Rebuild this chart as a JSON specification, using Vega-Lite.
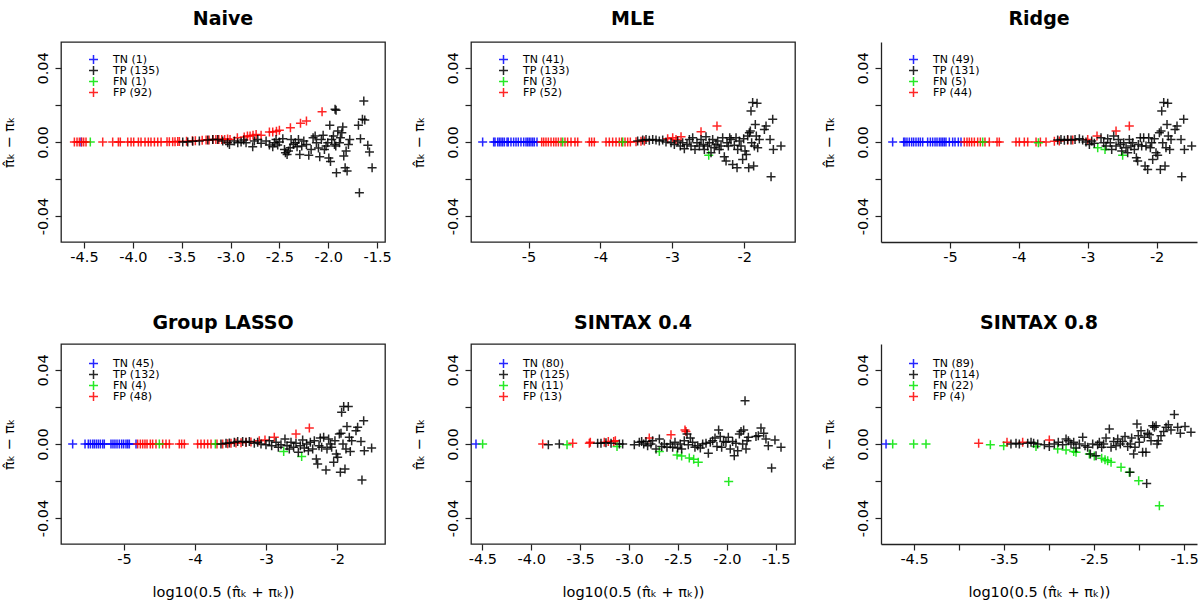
{
"$schema": "https://vega.github.io/schema/vega-lite/v6.json",
"padding": {"left": 0, "top": 9, "right": 0, "bottom": 0},
"background": "white",
"config": {
 "font": "DejaVu Sans",
 "view": {"stroke": "#222", "strokeWidth": 1.3},
 "axis": {"grid": false, "domain": false, "labelFont": "DejaVu Sans", "labelFontSize": 14.5, "labelColor": "#000", "tickColor": "#222", "tickSize": 6, "tickWidth": 1.2, "titleFont": "DejaVu Sans", "titleFontSize": 14.5, "titleFontWeight": "normal", "titleColor": "#000", "labelOverlap": false, "labelFlush": false, "domainColor": "#222", "domainWidth": 1.3},
 "axisY": {"labelAngle": 270, "labelAlign": "center", "labelBaseline": "bottom", "labelPadding": 5, "titlePadding": 19},
 "axisX": {"labelPadding": 2, "titlePadding": 20},
 "title": {"font": "DejaVu Sans", "fontSize": 19, "fontWeight": "bold", "anchor": "middle", "offset": 13, "color": "#000"},
 "legend": {"labelFont": "DejaVu Sans", "labelFontSize": 11, "labelColor": "#000", "symbolType": "M-1,0L1,0M0,-1L0,1", "symbolSize": 81, "symbolStrokeWidth": 1.5, "rowPadding": -1, "clipHeight": 11, "labelOffset": 14, "padding": 0}
},
"datasets": {
 "naive": [
  {"x":-4.53,"y":0,"c":"TN"},{"x":-4.435,"y":0,"c":"FN"},
  {"x":-4.598,"y":0,"c":"FP"},{"x":-4.571,"y":0,"c":"FP"},{"x":-4.547,"y":0,"c":"FP"},{"x":-4.523,"y":0,"c":"FP"},{"x":-4.503,"y":0,"c":"FP"},{"x":-4.479,"y":0,"c":"FP"},{"x":-4.308,"y":0,"c":"FP"},{"x":-4.206,"y":0,"c":"FP"},{"x":-4.148,"y":0,"c":"FP"},{"x":-4.128,"y":0,"c":"FP"},{"x":-4.052,"y":0,"c":"FP"},{"x":-4.018,"y":0,"c":"FP"},{"x":-3.991,"y":0,"c":"FP"},{"x":-3.943,"y":0,"c":"FP"},{"x":-3.916,"y":0,"c":"FP"},{"x":-3.875,"y":0,"c":"FP"},{"x":-3.841,"y":0,"c":"FP"},{"x":-3.814,"y":0,"c":"FP"},{"x":-3.779,"y":0,"c":"FP"},{"x":-3.745,"y":0,"c":"FP"},{"x":-3.711,"y":0,"c":"FP"},{"x":-3.65,"y":0.0002,"c":"FP"},{"x":-3.626,"y":0.0002,"c":"FP"},{"x":-3.592,"y":0.0002,"c":"FP"},{"x":-3.568,"y":0.0002,"c":"FP"},{"x":-3.54,"y":0.0003,"c":"FP"},{"x":-3.523,"y":0.0003,"c":"FP"},{"x":-3.45,"y":0.0004,"c":"FP"},{"x":-3.39,"y":0.0007,"c":"FP"},{"x":-3.36,"y":0.0007,"c":"FP"},{"x":-3.29,"y":0.0009,"c":"FP"},{"x":-3.25,"y":0.0011,"c":"FP"},{"x":-3.22,"y":0.0011,"c":"FP"},{"x":-3.18,"y":0.0013,"c":"FP"},{"x":-3.15,"y":0.0013,"c":"FP"},{"x":-3.12,"y":0.0013,"c":"FP"},{"x":-3.09,"y":0.0014,"c":"FP"},{"x":-3.06,"y":0.0014,"c":"FP"},{"x":-3.03,"y":0.0016,"c":"FP"},{"x":-3.005,"y":0.0014,"c":"FP"},{"x":-2.93,"y":0.0023,"c":"FP"},{"x":-2.86,"y":0.0027,"c":"FP"},{"x":-2.827,"y":0.0032,"c":"FP"},{"x":-2.8,"y":0.0032,"c":"FP"},{"x":-2.77,"y":0.0036,"c":"FP"},{"x":-2.738,"y":0.0041,"c":"FP"},{"x":-2.687,"y":0.0036,"c":"FP"},{"x":-2.602,"y":0.0054,"c":"FP"},{"x":-2.568,"y":0.0054,"c":"FP"},{"x":-2.53,"y":0.0058,"c":"FP"},{"x":-2.5,"y":0.0063,"c":"FP"},{"x":-2.387,"y":0.0077,"c":"FP"},{"x":-2.284,"y":0.0101,"c":"FP"},{"x":-2.223,"y":0.0113,"c":"FP"},{"x":-2.063,"y":0.0164,"c":"FP"},
  {"x":-3.489,"y":0,"c":"TP"},{"x":-3.438,"y":0,"c":"TP"},{"x":-3.387,"y":0.0004,"c":"TP"},{"x":-3.319,"y":0.0005,"c":"TP"},{"x":-3.233,"y":0.0011,"c":"TP"},{"x":-3.182,"y":0.0014,"c":"TP"},{"x":-3.131,"y":0.0013,"c":"TP"},{"x":-3.08,"y":0.0005,"c":"TP"},{"x":-3.029,"y":-0.0004,"c":"TP"},{"x":-3.011,"y":-0.0013,"c":"TP"},{"x":-2.96,"y":0.0005,"c":"TP"},{"x":-2.926,"y":-0.0004,"c":"TP"},{"x":-2.892,"y":0,"c":"TP"},{"x":-2.865,"y":0.0011,"c":"TP"},{"x":-2.841,"y":-0.0004,"c":"TP"},{"x":-2.773,"y":-0.0025,"c":"TP"},{"x":-2.756,"y":0.0005,"c":"TP"},{"x":-2.721,"y":0.0014,"c":"TP"},{"x":-2.687,"y":-0.0007,"c":"TP"},{"x":-2.636,"y":0.0005,"c":"TP"},{"x":-2.602,"y":-0.0016,"c":"TP"},{"x":-2.568,"y":-0.0025,"c":"TP"},{"x":-2.551,"y":-0.0004,"c":"TP"},{"x":-2.534,"y":0.0014,"c":"TP"},{"x":-2.517,"y":-0.0016,"c":"TP"},{"x":-2.5,"y":0,"c":"TP"},{"x":-2.465,"y":0.0018,"c":"TP"},{"x":-2.448,"y":-0.004,"c":"TP"},{"x":-2.438,"y":-0.0058,"c":"TP"},{"x":-2.421,"y":-0.0067,"c":"TP"},{"x":-2.407,"y":-0.0049,"c":"TP"},{"x":-2.39,"y":-0.0031,"c":"TP"},{"x":-2.38,"y":0.0014,"c":"TP"},{"x":-2.356,"y":-0.0013,"c":"TP"},{"x":-2.336,"y":-0.0004,"c":"TP"},{"x":-2.319,"y":-0.0025,"c":"TP"},{"x":-2.305,"y":0.0014,"c":"TP"},{"x":-2.291,"y":-0.0068,"c":"TP"},{"x":-2.271,"y":-0.0022,"c":"TP"},{"x":-2.25,"y":0.0005,"c":"TP"},{"x":-2.223,"y":-0.0013,"c":"TP"},{"x":-2.199,"y":-0.0072,"c":"TP"},{"x":-2.175,"y":-0.004,"c":"TP"},{"x":-2.155,"y":0.0023,"c":"TP"},{"x":-2.134,"y":0.0032,"c":"TP"},{"x":-2.121,"y":-0.0004,"c":"TP"},{"x":-2.1,"y":-0.0032,"c":"TP"},{"x":-2.087,"y":-0.0079,"c":"TP"},{"x":-2.07,"y":0.0014,"c":"TP"},{"x":-2.052,"y":0.0036,"c":"TP"},{"x":-2.039,"y":-0.004,"c":"TP"},{"x":-2.022,"y":-0.0022,"c":"TP"},{"x":-2.005,"y":-0.0004,"c":"TP"},{"x":-1.994,"y":-0.0086,"c":"TP"},{"x":-1.984,"y":0.009,"c":"TP"},{"x":-1.977,"y":-0.0105,"c":"TP"},{"x":-1.964,"y":0.0014,"c":"TP"},{"x":-1.947,"y":0.0032,"c":"TP"},{"x":-1.936,"y":-0.0013,"c":"TP"},{"x":-1.923,"y":-0.0022,"c":"TP"},{"x":-1.916,"y":-0.0166,"c":"TP"},{"x":-1.93,"y":0.0177,"c":"TP"},{"x":-1.92,"y":0.0172,"c":"TP"},{"x":-1.902,"y":0.0059,"c":"TP"},{"x":-1.885,"y":-0.0004,"c":"TP"},{"x":-1.875,"y":0.0023,"c":"TP"},{"x":-1.861,"y":0.005,"c":"TP"},{"x":-1.851,"y":0.0081,"c":"TP"},{"x":-1.841,"y":-0.0076,"c":"TP"},{"x":-1.827,"y":-0.0139,"c":"TP"},{"x":-1.817,"y":-0.0049,"c":"TP"},{"x":-1.807,"y":-0.0157,"c":"TP"},{"x":-1.793,"y":-0.0013,"c":"TP"},{"x":-1.78,"y":0.0014,"c":"TP"},{"x":-1.691,"y":0.009,"c":"TP"},{"x":-1.681,"y":-0.0274,"c":"TP"},{"x":-1.67,"y":0.0018,"c":"TP"},{"x":-1.65,"y":0.0123,"c":"TP"},{"x":-1.636,"y":0.0222,"c":"TP"},{"x":-1.626,"y":0.0119,"c":"TP"},{"x":-1.595,"y":-0.0018,"c":"TP"},{"x":-1.578,"y":-0.0054,"c":"TP"},{"x":-1.551,"y":-0.0139,"c":"TP"}
 ],
 "mle": [
  {"x":-5.638,"y":0,"c":"TN"},{"x":-5.485,"y":0,"c":"TN"},{"x":-5.466,"y":0,"c":"TN"},{"x":-5.429,"y":0,"c":"TN"},{"x":-5.406,"y":0,"c":"TN"},{"x":-5.383,"y":0,"c":"TN"},{"x":-5.36,"y":0,"c":"TN"},{"x":-5.336,"y":0,"c":"TN"},{"x":-5.299,"y":0,"c":"TN"},{"x":-5.281,"y":0,"c":"TN"},{"x":-5.244,"y":0,"c":"TN"},{"x":-5.207,"y":0,"c":"TN"},{"x":-5.174,"y":0,"c":"TN"},{"x":-5.142,"y":0,"c":"TN"},{"x":-5.105,"y":0,"c":"TN"},{"x":-5.067,"y":0,"c":"TN"},{"x":-5.035,"y":0,"c":"TN"},{"x":-5.012,"y":0,"c":"TN"},{"x":-4.989,"y":0,"c":"TN"},{"x":-4.966,"y":0,"c":"TN"},{"x":-4.942,"y":0,"c":"TN"},{"x":-4.919,"y":0,"c":"TN"},{"x":-4.882,"y":0,"c":"TN"},
  {"x":-4.817,"y":0,"c":"FP"},{"x":-4.789,"y":0,"c":"FP"},{"x":-4.757,"y":0,"c":"FP"},{"x":-4.724,"y":0,"c":"FP"},{"x":-4.687,"y":0,"c":"FP"},{"x":-4.65,"y":0,"c":"FP"},{"x":-4.618,"y":0,"c":"FP"},{"x":-4.585,"y":0,"c":"FP"},{"x":-4.548,"y":0,"c":"FP"},{"x":-4.493,"y":0,"c":"FP"},{"x":-4.456,"y":0,"c":"FP"},{"x":-4.409,"y":0,"c":"FP"},{"x":-4.354,"y":0,"c":"FP"},{"x":-4.316,"y":0,"c":"FP"},{"x":-4.154,"y":0,"c":"FP"},{"x":-4.122,"y":0,"c":"FP"},{"x":-4.085,"y":0,"c":"FP"},{"x":-3.922,"y":0,"c":"FP"},{"x":-3.876,"y":0,"c":"FP"},{"x":-3.83,"y":0,"c":"FP"},{"x":-3.783,"y":0,"c":"FP"},{"x":-3.737,"y":0,"c":"FP"},{"x":-3.704,"y":0,"c":"FP"},{"x":-3.658,"y":0,"c":"FP"},{"x":-3.621,"y":0,"c":"FP"},{"x":-3.584,"y":0,"c":"FP"},{"x":-3.505,"y":0.0002,"c":"FP"},{"x":-3.436,"y":0.0004,"c":"FP"},{"x":-3.389,"y":0.0005,"c":"FP"},{"x":-3.065,"y":0.0018,"c":"FP"},{"x":-2.995,"y":0.0023,"c":"FP"},{"x":-2.949,"y":0.0014,"c":"FP"},{"x":-2.879,"y":0.0029,"c":"FP"},{"x":-2.601,"y":0.0056,"c":"FP"},{"x":-2.379,"y":0.0086,"c":"FP"},
  {"x":-4.525,"y":0,"c":"FN"},{"x":-3.69,"y":0,"c":"FN"},{"x":-2.494,"y":-0.0072,"c":"FN"},
  {"x":-3.482,"y":0.0005,"c":"TP"},{"x":-3.412,"y":0.0011,"c":"TP"},{"x":-3.366,"y":0.0014,"c":"TP"},{"x":-3.32,"y":0.0009,"c":"TP"},{"x":-3.273,"y":0.0014,"c":"TP"},{"x":-3.227,"y":0.0011,"c":"TP"},{"x":-3.181,"y":0.0005,"c":"TP"},{"x":-3.134,"y":0.0011,"c":"TP"},{"x":-3.088,"y":0,"c":"TP"},{"x":-3.018,"y":-0.0004,"c":"TP"},{"x":-2.972,"y":-0.0013,"c":"TP"},{"x":-2.926,"y":0.0005,"c":"TP"},{"x":-2.889,"y":-0.0022,"c":"TP"},{"x":-2.856,"y":-0.0004,"c":"TP"},{"x":-2.833,"y":-0.0036,"c":"TP"},{"x":-2.796,"y":-0.0013,"c":"TP"},{"x":-2.763,"y":0.0014,"c":"TP"},{"x":-2.74,"y":-0.0022,"c":"TP"},{"x":-2.717,"y":0.0023,"c":"TP"},{"x":-2.685,"y":-0.004,"c":"TP"},{"x":-2.657,"y":-0.0004,"c":"TP"},{"x":-2.624,"y":-0.0022,"c":"TP"},{"x":-2.601,"y":0.0014,"c":"TP"},{"x":-2.569,"y":-0.0013,"c":"TP"},{"x":-2.555,"y":-0.004,"c":"TP"},{"x":-2.532,"y":0.0029,"c":"TP"},{"x":-2.508,"y":-0.0022,"c":"TP"},{"x":-2.485,"y":-0.0004,"c":"TP"},{"x":-2.462,"y":-0.0058,"c":"TP"},{"x":-2.439,"y":0.0014,"c":"TP"},{"x":-2.416,"y":-0.0031,"c":"TP"},{"x":-2.393,"y":-0.0013,"c":"TP"},{"x":-2.369,"y":0.0005,"c":"TP"},{"x":-2.346,"y":-0.004,"c":"TP"},{"x":-2.323,"y":-0.0022,"c":"TP"},{"x":-2.3,"y":0.0023,"c":"TP"},{"x":-2.277,"y":-0.0079,"c":"TP"},{"x":-2.253,"y":-0.0103,"c":"TP"},{"x":-2.24,"y":-0.0004,"c":"TP"},{"x":-2.221,"y":-0.0022,"c":"TP"},{"x":-2.202,"y":0.0023,"c":"TP"},{"x":-2.184,"y":0.0014,"c":"TP"},{"x":-2.161,"y":-0.0121,"c":"TP"},{"x":-2.138,"y":-0.0018,"c":"TP"},{"x":-2.114,"y":0.0023,"c":"TP"},{"x":-2.1,"y":-0.0139,"c":"TP"},{"x":-2.091,"y":-0.004,"c":"TP"},{"x":-2.068,"y":0.0005,"c":"TP"},{"x":-2.045,"y":-0.0022,"c":"TP"},{"x":-2.022,"y":-0.0094,"c":"TP"},{"x":-2.008,"y":0.0018,"c":"TP"},{"x":-1.989,"y":-0.0049,"c":"TP"},{"x":-1.971,"y":-0.0067,"c":"TP"},{"x":-1.952,"y":0.0032,"c":"TP"},{"x":-1.938,"y":-0.0139,"c":"TP"},{"x":-1.929,"y":0.005,"c":"TP"},{"x":-1.915,"y":0.0059,"c":"TP"},{"x":-1.906,"y":0.0168,"c":"TP"},{"x":-1.897,"y":-0.0004,"c":"TP"},{"x":-1.883,"y":0.0213,"c":"TP"},{"x":-1.869,"y":-0.013,"c":"TP"},{"x":-1.859,"y":-0.0022,"c":"TP"},{"x":-1.846,"y":0.0095,"c":"TP"},{"x":-1.832,"y":0.0032,"c":"TP"},{"x":-1.822,"y":0.0209,"c":"TP"},{"x":-1.813,"y":-0.0031,"c":"TP"},{"x":-1.79,"y":0.0014,"c":"TP"},{"x":-1.72,"y":0.0068,"c":"TP"},{"x":-1.697,"y":0.0086,"c":"TP"},{"x":-1.641,"y":0.0014,"c":"TP"},{"x":-1.627,"y":-0.0187,"c":"TP"},{"x":-1.604,"y":0.0123,"c":"TP"},{"x":-1.595,"y":-0.004,"c":"TP"},{"x":-1.489,"y":-0.0022,"c":"TP"}
 ],
 "ridge": [
  {"x":-5.831,"y":0,"c":"TN"},{"x":-5.671,"y":0,"c":"TN"},{"x":-5.652,"y":0,"c":"TN"},{"x":-5.623,"y":0,"c":"TN"},{"x":-5.589,"y":0,"c":"TN"},{"x":-5.555,"y":0,"c":"TN"},{"x":-5.526,"y":0,"c":"TN"},{"x":-5.492,"y":0,"c":"TN"},{"x":-5.458,"y":0,"c":"TN"},{"x":-5.429,"y":0,"c":"TN"},{"x":-5.395,"y":0,"c":"TN"},{"x":-5.323,"y":0,"c":"TN"},{"x":-5.284,"y":0,"c":"TN"},{"x":-5.25,"y":0,"c":"TN"},{"x":-5.216,"y":0,"c":"TN"},{"x":-5.187,"y":0,"c":"TN"},{"x":-5.153,"y":0,"c":"TN"},{"x":-5.129,"y":0,"c":"TN"},{"x":-5.105,"y":0,"c":"TN"},{"x":-5.081,"y":0,"c":"TN"},{"x":-5.057,"y":0,"c":"TN"},{"x":-5.008,"y":0,"c":"TN"},{"x":-4.96,"y":0,"c":"TN"},{"x":-4.926,"y":0,"c":"TN"},{"x":-4.878,"y":0,"c":"TN"},{"x":-4.839,"y":0,"c":"TN"},
  {"x":-4.791,"y":0,"c":"FP"},{"x":-4.752,"y":0,"c":"FP"},{"x":-4.718,"y":0,"c":"FP"},{"x":-4.684,"y":0,"c":"FP"},{"x":-4.645,"y":0,"c":"FP"},{"x":-4.597,"y":0,"c":"FP"},{"x":-4.558,"y":0,"c":"FP"},{"x":-4.491,"y":0,"c":"FP"},{"x":-4.428,"y":0,"c":"FP"},{"x":-4.316,"y":0,"c":"FP"},{"x":-4.283,"y":0,"c":"FP"},{"x":-4.041,"y":0,"c":"FP"},{"x":-3.992,"y":0,"c":"FP"},{"x":-3.92,"y":0,"c":"FP"},{"x":-3.871,"y":0,"c":"FP"},{"x":-3.75,"y":0,"c":"FP"},{"x":-3.687,"y":0,"c":"FP"},{"x":-3.605,"y":0,"c":"FP"},{"x":-3.484,"y":0.0004,"c":"FP"},{"x":-3.412,"y":0.0005,"c":"FP"},{"x":-3.291,"y":0.0009,"c":"FP"},{"x":-3.218,"y":0.0011,"c":"FP"},{"x":-3.0,"y":0.0014,"c":"FP"},{"x":-2.865,"y":0.0032,"c":"FP"},{"x":-2.589,"y":0.0059,"c":"FP"},{"x":-2.396,"y":0.0086,"c":"FP"},
  {"x":-4.524,"y":0,"c":"FN"},{"x":-3.716,"y":-0.0004,"c":"FN"},{"x":-2.855,"y":-0.0031,"c":"FN"},{"x":-2.749,"y":-0.004,"c":"FN"},{"x":-2.493,"y":-0.0072,"c":"FN"},
  {"x":-3.436,"y":0.0011,"c":"TP"},{"x":-3.388,"y":0.0014,"c":"TP"},{"x":-3.339,"y":0.0009,"c":"TP"},{"x":-3.291,"y":0.0014,"c":"TP"},{"x":-3.242,"y":0.0011,"c":"TP"},{"x":-3.184,"y":0.0014,"c":"TP"},{"x":-3.121,"y":0.0018,"c":"TP"},{"x":-3.073,"y":0.0011,"c":"TP"},{"x":-3.025,"y":0,"c":"TP"},{"x":-2.976,"y":-0.0013,"c":"TP"},{"x":-2.942,"y":0.0005,"c":"TP"},{"x":-2.904,"y":-0.0007,"c":"TP"},{"x":-2.807,"y":0.0023,"c":"TP"},{"x":-2.768,"y":-0.0004,"c":"TP"},{"x":-2.734,"y":-0.0022,"c":"TP"},{"x":-2.71,"y":0.0018,"c":"TP"},{"x":-2.672,"y":-0.0004,"c":"TP"},{"x":-2.652,"y":-0.004,"c":"TP"},{"x":-2.623,"y":0.0032,"c":"TP"},{"x":-2.589,"y":-0.0022,"c":"TP"},{"x":-2.555,"y":0.0014,"c":"TP"},{"x":-2.526,"y":-0.0013,"c":"TP"},{"x":-2.507,"y":-0.0049,"c":"TP"},{"x":-2.478,"y":-0.0004,"c":"TP"},{"x":-2.444,"y":-0.0031,"c":"TP"},{"x":-2.42,"y":-0.0058,"c":"TP"},{"x":-2.396,"y":0.0014,"c":"TP"},{"x":-2.372,"y":-0.0022,"c":"TP"},{"x":-2.347,"y":-0.0004,"c":"TP"},{"x":-2.323,"y":-0.004,"c":"TP"},{"x":-2.294,"y":-0.0085,"c":"TP"},{"x":-2.275,"y":-0.0103,"c":"TP"},{"x":-2.265,"y":-0.0013,"c":"TP"},{"x":-2.236,"y":0.0023,"c":"TP"},{"x":-2.217,"y":-0.0022,"c":"TP"},{"x":-2.188,"y":0.0023,"c":"TP"},{"x":-2.168,"y":-0.013,"c":"TP"},{"x":-2.154,"y":-0.0022,"c":"TP"},{"x":-2.13,"y":-0.0148,"c":"TP"},{"x":-2.115,"y":0.0023,"c":"TP"},{"x":-2.091,"y":-0.0031,"c":"TP"},{"x":-2.072,"y":-0.0004,"c":"TP"},{"x":-2.057,"y":-0.0094,"c":"TP"},{"x":-2.033,"y":0.0018,"c":"TP"},{"x":-2.009,"y":-0.0058,"c":"TP"},{"x":-1.985,"y":-0.0072,"c":"TP"},{"x":-1.96,"y":0.005,"c":"TP"},{"x":-1.946,"y":-0.0148,"c":"TP"},{"x":-1.936,"y":0.0059,"c":"TP"},{"x":-1.926,"y":0.0168,"c":"TP"},{"x":-1.912,"y":-0.0004,"c":"TP"},{"x":-1.897,"y":0.0213,"c":"TP"},{"x":-1.878,"y":-0.013,"c":"TP"},{"x":-1.864,"y":-0.0031,"c":"TP"},{"x":-1.849,"y":0.0095,"c":"TP"},{"x":-1.839,"y":0.0209,"c":"TP"},{"x":-1.83,"y":0.0032,"c":"TP"},{"x":-1.81,"y":-0.004,"c":"TP"},{"x":-1.791,"y":0.0014,"c":"TP"},{"x":-1.733,"y":0.0068,"c":"TP"},{"x":-1.704,"y":0.0086,"c":"TP"},{"x":-1.646,"y":0.0014,"c":"TP"},{"x":-1.636,"y":-0.0187,"c":"TP"},{"x":-1.607,"y":0.0123,"c":"TP"},{"x":-1.597,"y":-0.004,"c":"TP"},{"x":-1.491,"y":-0.0022,"c":"TP"}
 ],
 "lasso": [
  {"x":-5.722,"y":0,"c":"TN"},{"x":-5.548,"y":0,"c":"TN"},{"x":-5.502,"y":0,"c":"TN"},{"x":-5.473,"y":0,"c":"TN"},{"x":-5.441,"y":0,"c":"TN"},{"x":-5.417,"y":0,"c":"TN"},{"x":-5.389,"y":0,"c":"TN"},{"x":-5.361,"y":0,"c":"TN"},{"x":-5.333,"y":0,"c":"TN"},{"x":-5.3,"y":0,"c":"TN"},{"x":-5.277,"y":0,"c":"TN"},{"x":-5.183,"y":0,"c":"TN"},{"x":-5.155,"y":0,"c":"TN"},{"x":-5.127,"y":0,"c":"TN"},{"x":-5.098,"y":0,"c":"TN"},{"x":-5.066,"y":0,"c":"TN"},{"x":-5.033,"y":0,"c":"TN"},{"x":-5.005,"y":0,"c":"TN"},{"x":-4.972,"y":0,"c":"TN"},{"x":-4.948,"y":0,"c":"TN"},{"x":-4.925,"y":0,"c":"TN"},{"x":-4.831,"y":0,"c":"TN"},
  {"x":-4.808,"y":0,"c":"FP"},{"x":-4.77,"y":0,"c":"FP"},{"x":-4.737,"y":0,"c":"FP"},{"x":-4.705,"y":0,"c":"FP"},{"x":-4.676,"y":0,"c":"FP"},{"x":-4.63,"y":0,"c":"FP"},{"x":-4.597,"y":0,"c":"FP"},{"x":-4.55,"y":0,"c":"FP"},{"x":-4.456,"y":0,"c":"FP"},{"x":-4.409,"y":0,"c":"FP"},{"x":-4.362,"y":0,"c":"FP"},{"x":-4.222,"y":0,"c":"FP"},{"x":-4.189,"y":0,"c":"FP"},{"x":-4.151,"y":0,"c":"FP"},{"x":-3.964,"y":0,"c":"FP"},{"x":-3.917,"y":0,"c":"FP"},{"x":-3.87,"y":0,"c":"FP"},{"x":-3.823,"y":0,"c":"FP"},{"x":-3.776,"y":0,"c":"FP"},{"x":-3.692,"y":0,"c":"FP"},{"x":-3.612,"y":0,"c":"FP"},{"x":-3.542,"y":0.0002,"c":"FP"},{"x":-3.495,"y":0.0004,"c":"FP"},{"x":-3.425,"y":0.0005,"c":"FP"},{"x":-3.354,"y":0.0007,"c":"FP"},{"x":-3.284,"y":0.0009,"c":"FP"},{"x":-3.214,"y":0.0011,"c":"FP"},{"x":-3.097,"y":0.0018,"c":"FP"},{"x":-3.017,"y":0.0022,"c":"FP"},{"x":-2.886,"y":0.0036,"c":"FP"},{"x":-2.581,"y":0.0054,"c":"FP"},{"x":-2.393,"y":0.0086,"c":"FP"},
  {"x":-4.503,"y":0,"c":"FN"},{"x":-3.715,"y":0,"c":"FN"},{"x":-2.754,"y":-0.004,"c":"FN"},{"x":-2.501,"y":-0.0068,"c":"FN"},
  {"x":-3.636,"y":0,"c":"TP"},{"x":-3.565,"y":0.0004,"c":"TP"},{"x":-3.518,"y":0.0005,"c":"TP"},{"x":-3.448,"y":0.0009,"c":"TP"},{"x":-3.401,"y":0.0013,"c":"TP"},{"x":-3.331,"y":0.0014,"c":"TP"},{"x":-3.284,"y":0.0009,"c":"TP"},{"x":-3.237,"y":0.0014,"c":"TP"},{"x":-3.167,"y":0.0004,"c":"TP"},{"x":-3.12,"y":0.0009,"c":"TP"},{"x":-3.073,"y":0,"c":"TP"},{"x":-3.003,"y":-0.0004,"c":"TP"},{"x":-2.956,"y":0.0018,"c":"TP"},{"x":-2.923,"y":-0.0009,"c":"TP"},{"x":-2.862,"y":0.0009,"c":"TP"},{"x":-2.829,"y":-0.0018,"c":"TP"},{"x":-2.792,"y":-0.0004,"c":"TP"},{"x":-2.736,"y":0.0027,"c":"TP"},{"x":-2.707,"y":-0.0009,"c":"TP"},{"x":-2.675,"y":-0.0027,"c":"TP"},{"x":-2.651,"y":0.0009,"c":"TP"},{"x":-2.614,"y":-0.0018,"c":"TP"},{"x":-2.581,"y":0.0004,"c":"TP"},{"x":-2.548,"y":-0.0045,"c":"TP"},{"x":-2.52,"y":-0.0009,"c":"TP"},{"x":-2.487,"y":0.0022,"c":"TP"},{"x":-2.464,"y":-0.0022,"c":"TP"},{"x":-2.431,"y":0,"c":"TP"},{"x":-2.407,"y":-0.0036,"c":"TP"},{"x":-2.379,"y":0.0009,"c":"TP"},{"x":-2.346,"y":-0.0027,"c":"TP"},{"x":-2.323,"y":0.0018,"c":"TP"},{"x":-2.295,"y":-0.0081,"c":"TP"},{"x":-2.276,"y":-0.0108,"c":"TP"},{"x":-2.257,"y":-0.0009,"c":"TP"},{"x":-2.239,"y":0.0032,"c":"TP"},{"x":-2.22,"y":-0.0018,"c":"TP"},{"x":-2.192,"y":0.0036,"c":"TP"},{"x":-2.159,"y":-0.0141,"c":"TP"},{"x":-2.145,"y":-0.0027,"c":"TP"},{"x":-2.122,"y":0.0027,"c":"TP"},{"x":-2.098,"y":0,"c":"TP"},{"x":-2.079,"y":-0.0018,"c":"TP"},{"x":-2.051,"y":-0.0099,"c":"TP"},{"x":-2.033,"y":0.0018,"c":"TP"},{"x":-2.014,"y":-0.0054,"c":"TP"},{"x":-1.995,"y":-0.0072,"c":"TP"},{"x":-1.971,"y":0.0054,"c":"TP"},{"x":-1.957,"y":-0.0153,"c":"TP"},{"x":-1.948,"y":0.0058,"c":"TP"},{"x":-1.939,"y":0.0171,"c":"TP"},{"x":-1.92,"y":0,"c":"TP"},{"x":-1.91,"y":0.0202,"c":"TP"},{"x":-1.892,"y":-0.0135,"c":"TP"},{"x":-1.878,"y":-0.0027,"c":"TP"},{"x":-1.864,"y":0.0094,"c":"TP"},{"x":-1.845,"y":0.0202,"c":"TP"},{"x":-1.831,"y":0.0036,"c":"TP"},{"x":-1.817,"y":-0.004,"c":"TP"},{"x":-1.798,"y":0.0018,"c":"TP"},{"x":-1.737,"y":0.0072,"c":"TP"},{"x":-1.714,"y":0.009,"c":"TP"},{"x":-1.667,"y":0.0014,"c":"TP"},{"x":-1.653,"y":-0.0195,"c":"TP"},{"x":-1.629,"y":0.0126,"c":"TP"},{"x":-1.62,"y":-0.0036,"c":"TP"},{"x":-1.517,"y":-0.0022,"c":"TP"}
 ],
 "s04": [
  {"x":-4.565,"y":0,"c":"TN"},
  {"x":-4.497,"y":0,"c":"FN"},{"x":-3.634,"y":-0.0004,"c":"FN"},{"x":-3.123,"y":-0.0014,"c":"FN"},{"x":-2.69,"y":-0.004,"c":"FN"},{"x":-2.509,"y":-0.0059,"c":"FN"},{"x":-2.462,"y":-0.0065,"c":"FN"},{"x":-2.384,"y":-0.0076,"c":"FN"},{"x":-2.339,"y":-0.0083,"c":"FN"},{"x":-2.292,"y":-0.0099,"c":"FN"},{"x":-1.981,"y":-0.0202,"c":"FN"},
  {"x":-3.883,"y":0,"c":"FP"},{"x":-3.576,"y":0.0004,"c":"FP"},{"x":-3.406,"y":0.0004,"c":"FP"},{"x":-3.396,"y":0.0009,"c":"FP"},{"x":-3.253,"y":0.0009,"c":"FP"},{"x":-3.212,"y":0.0014,"c":"FP"},{"x":-3.157,"y":0.0014,"c":"FP"},{"x":-3.14,"y":0.0018,"c":"FP"},{"x":-2.793,"y":0.0032,"c":"FP"},{"x":-2.571,"y":0.005,"c":"FP"},{"x":-2.428,"y":0.0076,"c":"FP"},{"x":-2.418,"y":0.0068,"c":"FP"},
  {"x":-3.825,"y":-0.0004,"c":"TP"},{"x":-3.713,"y":0,"c":"TP"},{"x":-3.321,"y":0.0004,"c":"TP"},{"x":-3.287,"y":0.0004,"c":"TP"},{"x":-3.236,"y":0.0007,"c":"TP"},{"x":-3.184,"y":0.0004,"c":"TP"},{"x":-3.099,"y":0,"c":"TP"},{"x":-3.065,"y":0,"c":"TP"},{"x":-2.946,"y":-0.0004,"c":"TP"},{"x":-2.895,"y":0.0009,"c":"TP"},{"x":-2.871,"y":0.0014,"c":"TP"},{"x":-2.85,"y":0,"c":"TP"},{"x":-2.827,"y":0.0014,"c":"TP"},{"x":-2.81,"y":-0.0009,"c":"TP"},{"x":-2.776,"y":0,"c":"TP"},{"x":-2.759,"y":0.0018,"c":"TP"},{"x":-2.724,"y":-0.0027,"c":"TP"},{"x":-2.69,"y":0.0027,"c":"TP"},{"x":-2.666,"y":-0.0014,"c":"TP"},{"x":-2.639,"y":0,"c":"TP"},{"x":-2.612,"y":-0.0018,"c":"TP"},{"x":-2.578,"y":0,"c":"TP"},{"x":-2.554,"y":-0.0018,"c":"TP"},{"x":-2.53,"y":0.0009,"c":"TP"},{"x":-2.503,"y":-0.0022,"c":"TP"},{"x":-2.476,"y":0,"c":"TP"},{"x":-2.462,"y":-0.0027,"c":"TP"},{"x":-2.435,"y":0.0018,"c":"TP"},{"x":-2.407,"y":0.0054,"c":"TP"},{"x":-2.394,"y":-0.0004,"c":"TP"},{"x":-2.373,"y":0.0032,"c":"TP"},{"x":-2.35,"y":0.0009,"c":"TP"},{"x":-2.326,"y":-0.0018,"c":"TP"},{"x":-2.298,"y":-0.0009,"c":"TP"},{"x":-2.271,"y":-0.0022,"c":"TP"},{"x":-2.247,"y":0,"c":"TP"},{"x":-2.213,"y":0.0004,"c":"TP"},{"x":-2.189,"y":-0.005,"c":"TP"},{"x":-2.169,"y":0.0009,"c":"TP"},{"x":-2.145,"y":0.0018,"c":"TP"},{"x":-2.121,"y":0.0032,"c":"TP"},{"x":-2.101,"y":-0.0014,"c":"TP"},{"x":-2.084,"y":0.0076,"c":"TP"},{"x":-2.067,"y":0.004,"c":"TP"},{"x":-2.053,"y":-0.0018,"c":"TP"},{"x":-2.033,"y":0.0014,"c":"TP"},{"x":-2.009,"y":0.0009,"c":"TP"},{"x":-1.985,"y":0.0036,"c":"TP"},{"x":-1.965,"y":-0.0027,"c":"TP"},{"x":-1.941,"y":0.0014,"c":"TP"},{"x":-1.924,"y":-0.0063,"c":"TP"},{"x":-1.907,"y":0.0004,"c":"TP"},{"x":-1.889,"y":-0.0036,"c":"TP"},{"x":-1.872,"y":0.0054,"c":"TP"},{"x":-1.855,"y":0.0068,"c":"TP"},{"x":-1.838,"y":0,"c":"TP"},{"x":-1.828,"y":0.0076,"c":"TP"},{"x":-1.814,"y":0.0234,"c":"TP"},{"x":-1.804,"y":-0.0027,"c":"TP"},{"x":-1.794,"y":0.0018,"c":"TP"},{"x":-1.78,"y":0.0036,"c":"TP"},{"x":-1.702,"y":0.004,"c":"TP"},{"x":-1.678,"y":0.0045,"c":"TP"},{"x":-1.651,"y":0.0086,"c":"TP"},{"x":-1.623,"y":0.0058,"c":"TP"},{"x":-1.6,"y":0.0027,"c":"TP"},{"x":-1.576,"y":-0.0009,"c":"TP"},{"x":-1.542,"y":-0.013,"c":"TP"},{"x":-1.508,"y":0.0022,"c":"TP"},{"x":-1.446,"y":-0.0018,"c":"TP"}
 ],
 "s08": [
  {"x":-4.811,"y":0,"c":"TN"},
  {"x":-4.737,"y":0,"c":"FN"},{"x":-4.504,"y":0,"c":"FN"},{"x":-4.367,"y":0,"c":"FN"},{"x":-3.652,"y":-0.0004,"c":"FN"},{"x":-3.504,"y":-0.0009,"c":"FN"},{"x":-3.145,"y":-0.0014,"c":"FN"},{"x":-2.904,"y":-0.0027,"c":"FN"},{"x":-2.811,"y":-0.0032,"c":"FN"},{"x":-2.726,"y":-0.004,"c":"FN"},{"x":-2.7,"y":-0.0045,"c":"FN"},{"x":-2.552,"y":-0.0054,"c":"FN"},{"x":-2.497,"y":-0.0065,"c":"FN"},{"x":-2.415,"y":-0.0077,"c":"FN"},{"x":-2.378,"y":-0.0085,"c":"FN"},{"x":-2.348,"y":-0.009,"c":"FN"},{"x":-2.311,"y":-0.0099,"c":"FN"},{"x":-2.2,"y":-0.0126,"c":"FN"},{"x":-2.108,"y":-0.0153,"c":"FN"},{"x":-2.004,"y":-0.0198,"c":"FN"},{"x":-1.774,"y":-0.0333,"c":"FN"},
  {"x":-3.782,"y":0.0004,"c":"FP"},{"x":-3.467,"y":0.0009,"c":"FP"},{"x":-3.293,"y":0.0009,"c":"FP"},{"x":-2.997,"y":0.0022,"c":"FP"},
  {"x":-3.423,"y":0,"c":"TP"},{"x":-3.367,"y":0.0004,"c":"TP"},{"x":-3.33,"y":0,"c":"TP"},{"x":-3.237,"y":0.0004,"c":"TP"},{"x":-3.2,"y":0.0009,"c":"TP"},{"x":-3.171,"y":0.0004,"c":"TP"},{"x":-3.126,"y":0,"c":"TP"},{"x":-3.052,"y":-0.0004,"c":"TP"},{"x":-2.997,"y":-0.0014,"c":"TP"},{"x":-2.941,"y":0,"c":"TP"},{"x":-2.897,"y":0.0009,"c":"TP"},{"x":-2.849,"y":-0.0004,"c":"TP"},{"x":-2.811,"y":0.0027,"c":"TP"},{"x":-2.785,"y":0.0018,"c":"TP"},{"x":-2.756,"y":0,"c":"TP"},{"x":-2.726,"y":0.0009,"c":"TP"},{"x":-2.7,"y":-0.0022,"c":"TP"},{"x":-2.663,"y":0,"c":"TP"},{"x":-2.626,"y":0.0036,"c":"TP"},{"x":-2.6,"y":-0.0009,"c":"TP"},{"x":-2.571,"y":-0.0018,"c":"TP"},{"x":-2.541,"y":-0.0054,"c":"TP"},{"x":-2.515,"y":0,"c":"TP"},{"x":-2.478,"y":-0.0063,"c":"TP"},{"x":-2.46,"y":-0.0004,"c":"TP"},{"x":-2.441,"y":0.0009,"c":"TP"},{"x":-2.415,"y":-0.0018,"c":"TP"},{"x":-2.393,"y":0,"c":"TP"},{"x":-2.367,"y":0.0032,"c":"TP"},{"x":-2.33,"y":0.0081,"c":"TP"},{"x":-2.311,"y":-0.0018,"c":"TP"},{"x":-2.282,"y":0.0014,"c":"TP"},{"x":-2.256,"y":-0.0009,"c":"TP"},{"x":-2.237,"y":0.0027,"c":"TP"},{"x":-2.208,"y":0,"c":"TP"},{"x":-2.182,"y":0.0014,"c":"TP"},{"x":-2.156,"y":0.004,"c":"TP"},{"x":-2.126,"y":-0.0014,"c":"TP"},{"x":-2.1,"y":-0.0153,"c":"TP"},{"x":-2.097,"y":0,"c":"TP"},{"x":-2.082,"y":0.0032,"c":"TP"},{"x":-2.06,"y":-0.0054,"c":"TP"},{"x":-2.045,"y":-0.0018,"c":"TP"},{"x":-2.023,"y":0.0108,"c":"TP"},{"x":-2.008,"y":0.0045,"c":"TP"},{"x":-1.997,"y":0.0009,"c":"TP"},{"x":-1.978,"y":0.0072,"c":"TP"},{"x":-1.96,"y":-0.0045,"c":"TP"},{"x":-1.941,"y":0.0036,"c":"TP"},{"x":-1.923,"y":-0.0045,"c":"TP"},{"x":-1.915,"y":-0.0213,"c":"TP"},{"x":-1.904,"y":0.0058,"c":"TP"},{"x":-1.885,"y":0.005,"c":"TP"},{"x":-1.867,"y":0.0018,"c":"TP"},{"x":-1.848,"y":0.0099,"c":"TP"},{"x":-1.83,"y":0.009,"c":"TP"},{"x":-1.811,"y":0.0099,"c":"TP"},{"x":-1.8,"y":0,"c":"TP"},{"x":-1.786,"y":0.0018,"c":"TP"},{"x":-1.756,"y":0.0045,"c":"TP"},{"x":-1.726,"y":0.0068,"c":"TP"},{"x":-1.7,"y":0.009,"c":"TP"},{"x":-1.674,"y":0.0104,"c":"TP"},{"x":-1.645,"y":0.0076,"c":"TP"},{"x":-1.608,"y":0.0159,"c":"TP"},{"x":-1.571,"y":0.009,"c":"TP"},{"x":-1.541,"y":0.0058,"c":"TP"},{"x":-1.489,"y":0.0094,"c":"TP"},{"x":-1.423,"y":0.0063,"c":"TP"}
 ]
},
"columns": 3,
"spacing": {"row": 102, "column": 86},
"bounds": "flush",
"resolve": {"scale": {"color": "independent"}, "legend": {"color": "independent"}},
"concat": [
  {"width": 324, "height": 200, "title": "Naive",
   "layer": [
    {"data": {"name": "naive"},
     "mark": {"type": "point", "shape": "M-1,0L1,0M0,-1L0,1", "filled": false, "size": 81, "strokeWidth": 1.5, "opacity": 0.85},
     "encoding": {
      "x": {"field": "x", "type": "quantitative", "scale": {"domain": [-4.735, -1.419], "nice": false, "zero": false}, "axis": {"title": null, "values": [-4.5, -4, -3.5, -3, -2.5, -2, -1.5], "labelExpr": "replace(format(datum.value, '.1f'), '\u2212', '-')"}},
      "y": {"field": "y", "type": "quantitative", "scale": {"domain": [-0.054, 0.054], "nice": false, "zero": false}, "axis": {"title": "\u03c0\u0302\u2096 \u2212 \u03c0\u2096", "values": [-0.04, -0.02, 0, 0.02, 0.04], "labelExpr": "abs(datum.value) > 0.01 && abs(datum.value) < 0.03 ? '' : replace(format(datum.value, '.2f'), '\u2212', '-')"}},
      "color": {"field": "c", "type": "nominal", "scale": {"domain": ["TN", "TP", "FN", "FP"], "range": ["#0000ff", "#000000", "#00e600", "#ff0000"]}, "legend": {"title": null, "orient": "none", "legendX": 27, "legendY": 12, "rowPadding": -1, "clipHeight": 11, "labelExpr": "datum.label == 'TN' ? 'TN (1)' : datum.label == 'TP' ? 'TP (135)' : datum.label == 'FN' ? 'FN (1)' : 'FP (92)'"}}
     }},
    {"mark": {"type": "rule", "color": "#808080", "strokeWidth": 1.3}, "encoding": {"y": {"datum": 0}}}
   ]},
  {"width": 324, "height": 200, "title": "MLE",
   "layer": [
    {"data": {"name": "mle"},
     "mark": {"type": "point", "shape": "M-1,0L1,0M0,-1L0,1", "filled": false, "size": 81, "strokeWidth": 1.5, "opacity": 0.85},
     "encoding": {
      "x": {"field": "x", "type": "quantitative", "scale": {"domain": [-5.8, -1.294], "nice": false, "zero": false}, "axis": {"title": null, "values": [-5, -4, -3, -2], "labelExpr": "replace(format(datum.value, 'd'), '\u2212', '-')"}},
      "y": {"field": "y", "type": "quantitative", "scale": {"domain": [-0.054, 0.054], "nice": false, "zero": false}, "axis": {"title": "\u03c0\u0302\u2096 \u2212 \u03c0\u2096", "values": [-0.04, -0.02, 0, 0.02, 0.04], "labelExpr": "abs(datum.value) > 0.01 && abs(datum.value) < 0.03 ? '' : replace(format(datum.value, '.2f'), '\u2212', '-')"}},
      "color": {"field": "c", "type": "nominal", "scale": {"domain": ["TN", "TP", "FN", "FP"], "range": ["#0000ff", "#000000", "#00e600", "#ff0000"]}, "legend": {"title": null, "orient": "none", "legendX": 27, "legendY": 12, "rowPadding": -1, "clipHeight": 11, "labelExpr": "datum.label == 'TN' ? 'TN (41)' : datum.label == 'TP' ? 'TP (133)' : datum.label == 'FN' ? 'FN (3)' : 'FP (52)'"}}
     }},
    {"mark": {"type": "rule", "color": "#808080", "strokeWidth": 1.3}, "encoding": {"y": {"datum": 0}}}
   ]},
  {"width": 316, "height": 200, "title": "Ridge", "view": {"stroke": null},
   "layer": [
    {"data": {"name": "ridge"},
     "mark": {"type": "point", "shape": "M-1,0L1,0M0,-1L0,1", "filled": false, "size": 81, "strokeWidth": 1.5, "opacity": 0.85},
     "encoding": {
      "x": {"field": "x", "type": "quantitative", "scale": {"domain": [-6.0, -1.414], "nice": false, "zero": false}, "axis": {"title": null, "domain": true, "values": [-5, -4, -3, -2], "labelExpr": "replace(format(datum.value, 'd'), '\u2212', '-')"}},
      "y": {"field": "y", "type": "quantitative", "scale": {"domain": [-0.054, 0.054], "nice": false, "zero": false}, "axis": {"title": "\u03c0\u0302\u2096 \u2212 \u03c0\u2096", "domain": true, "values": [-0.04, -0.02, 0, 0.02, 0.04], "labelExpr": "abs(datum.value) > 0.01 && abs(datum.value) < 0.03 ? '' : replace(format(datum.value, '.2f'), '\u2212', '-')"}},
      "color": {"field": "c", "type": "nominal", "scale": {"domain": ["TN", "TP", "FN", "FP"], "range": ["#0000ff", "#000000", "#00e600", "#ff0000"]}, "legend": {"title": null, "orient": "none", "legendX": 27, "legendY": 12, "rowPadding": -1, "clipHeight": 11, "labelExpr": "datum.label == 'TN' ? 'TN (49)' : datum.label == 'TP' ? 'TP (131)' : datum.label == 'FN' ? 'FN (5)' : 'FP (44)'"}}
     }},
    {"mark": {"type": "rule", "color": "#808080", "strokeWidth": 1.3}, "encoding": {"y": {"datum": 0}}},
    {"mark": {"type": "rule", "color": "#222", "strokeWidth": 1.3}, "encoding": {"y": {"datum": 0.054}}}
   ]},
  {"width": 324, "height": 200, "title": {"text": "Group LASSO", "offset": 11},
   "layer": [
    {"data": {"name": "lasso"},
     "mark": {"type": "point", "shape": "M-1,0L1,0M0,-1L0,1", "filled": false, "size": 81, "strokeWidth": 1.5, "opacity": 0.85},
     "encoding": {
      "x": {"field": "x", "type": "quantitative", "scale": {"domain": [-5.886, -1.329], "nice": false, "zero": false}, "axis": {"title": "log10(0.5 (\u03c0\u0302\u2096 + \u03c0\u2096))", "values": [-5, -4, -3, -2], "labelExpr": "replace(format(datum.value, 'd'), '\u2212', '-')"}},
      "y": {"field": "y", "type": "quantitative", "scale": {"domain": [-0.054, 0.054], "nice": false, "zero": false}, "axis": {"title": "\u03c0\u0302\u2096 \u2212 \u03c0\u2096", "values": [-0.04, -0.02, 0, 0.02, 0.04], "labelExpr": "abs(datum.value) > 0.01 && abs(datum.value) < 0.03 ? '' : replace(format(datum.value, '.2f'), '\u2212', '-')"}},
      "color": {"field": "c", "type": "nominal", "scale": {"domain": ["TN", "TP", "FN", "FP"], "range": ["#0000ff", "#000000", "#00e600", "#ff0000"]}, "legend": {"title": null, "orient": "none", "legendX": 27, "legendY": 14, "rowPadding": -1, "clipHeight": 11, "labelExpr": "datum.label == 'TN' ? 'TN (45)' : datum.label == 'TP' ? 'TP (132)' : datum.label == 'FN' ? 'FN (4)' : 'FP (48)'"}}
     }},
    {"mark": {"type": "rule", "color": "#808080", "strokeWidth": 1.3}, "encoding": {"y": {"datum": 0}}}
   ]},
  {"width": 324, "height": 200, "title": {"text": "SINTAX 0.4", "offset": 11},
   "layer": [
    {"data": {"name": "s04"},
     "mark": {"type": "point", "shape": "M-1,0L1,0M0,-1L0,1", "filled": false, "size": 81, "strokeWidth": 1.5, "opacity": 0.85},
     "encoding": {
      "x": {"field": "x", "type": "quantitative", "scale": {"domain": [-4.616, -1.303], "nice": false, "zero": false}, "axis": {"title": "log10(0.5 (\u03c0\u0302\u2096 + \u03c0\u2096))", "values": [-4.5, -4, -3.5, -3, -2.5, -2, -1.5], "labelExpr": "replace(format(datum.value, '.1f'), '\u2212', '-')"}},
      "y": {"field": "y", "type": "quantitative", "scale": {"domain": [-0.054, 0.054], "nice": false, "zero": false}, "axis": {"title": "\u03c0\u0302\u2096 \u2212 \u03c0\u2096", "values": [-0.04, -0.02, 0, 0.02, 0.04], "labelExpr": "abs(datum.value) > 0.01 && abs(datum.value) < 0.03 ? '' : replace(format(datum.value, '.2f'), '\u2212', '-')"}},
      "color": {"field": "c", "type": "nominal", "scale": {"domain": ["TN", "TP", "FN", "FP"], "range": ["#0000ff", "#000000", "#00e600", "#ff0000"]}, "legend": {"title": null, "orient": "none", "legendX": 27, "legendY": 14, "rowPadding": -1, "clipHeight": 11, "labelExpr": "datum.label == 'TN' ? 'TN (80)' : datum.label == 'TP' ? 'TP (125)' : datum.label == 'FN' ? 'FN (11)' : 'FP (13)'"}}
     }},
    {"mark": {"type": "rule", "color": "#808080", "strokeWidth": 1.3}, "encoding": {"y": {"datum": 0}}}
   ]},
  {"width": 316, "height": 200, "title": {"text": "SINTAX 0.8", "offset": 11}, "view": {"stroke": null},
   "layer": [
    {"data": {"name": "s08"},
     "mark": {"type": "point", "shape": "M-1,0L1,0M0,-1L0,1", "filled": false, "size": 81, "strokeWidth": 1.5, "opacity": 0.85},
     "encoding": {
      "x": {"field": "x", "type": "quantitative", "scale": {"domain": [-4.867, -1.356], "nice": false, "zero": false}, "axis": {"title": "log10(0.5 (\u03c0\u0302\u2096 + \u03c0\u2096))", "domain": true, "values": [-4.5, -4, -3.5, -3, -2.5, -2, -1.5], "labelExpr": "abs(datum.value - round(datum.value)) < 0.1 ? '' : replace(format(datum.value, '.1f'), '\u2212', '-')"}},
      "y": {"field": "y", "type": "quantitative", "scale": {"domain": [-0.054, 0.054], "nice": false, "zero": false}, "axis": {"title": "\u03c0\u0302\u2096 \u2212 \u03c0\u2096", "domain": true, "values": [-0.04, -0.02, 0, 0.02, 0.04], "labelExpr": "abs(datum.value) > 0.01 && abs(datum.value) < 0.03 ? '' : replace(format(datum.value, '.2f'), '\u2212', '-')"}},
      "color": {"field": "c", "type": "nominal", "scale": {"domain": ["TN", "TP", "FN", "FP"], "range": ["#0000ff", "#000000", "#00e600", "#ff0000"]}, "legend": {"title": null, "orient": "none", "legendX": 27, "legendY": 14, "rowPadding": -1, "clipHeight": 11, "labelExpr": "datum.label == 'TN' ? 'TN (89)' : datum.label == 'TP' ? 'TP (114)' : datum.label == 'FN' ? 'FN (22)' : 'FP (4)'"}}
     }},
    {"mark": {"type": "rule", "color": "#808080", "strokeWidth": 1.3}, "encoding": {"y": {"datum": 0}}},
    {"mark": {"type": "rule", "color": "#222", "strokeWidth": 1.3}, "encoding": {"y": {"datum": 0.054}}}
   ]}
]
}
